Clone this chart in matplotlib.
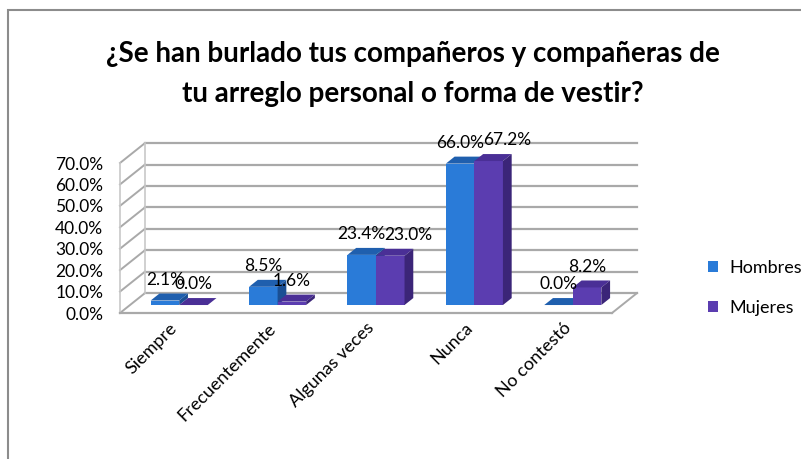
import matplotlib.pyplot as plt
from matplotlib.patches import Polygon, Rectangle
import numpy as np

plt.rcParams['font.family'] = ['Lato', 'DejaVu Sans']

# Datos del gráfico
categorias = ['Siempre', 'Frecuentemente', 'Algunas veces', 'Nunca', 'No contestó']
hombres = [2.1, 8.5, 23.4, 66.0, 0.0]
mujeres = [0.0, 1.6, 23.0, 67.2, 8.2]
series = ['Hombres', 'Mujeres']
yticks = [0, 10, 20, 30, 40, 50, 60, 70]

titulo = '¿Se han burlado tus compañeros y compañeras de\ntu arreglo personal o forma de vestir?'

# Estilo (pseudo 3D)
colores = {
    'Hombres': ('#2a7bd8', '#1f5fae', '#1a4f94'),   # frente, arriba, lado
    'Mujeres': ('#5b3db0', '#4a2f96', '#3b2578'),
}
DX, DY = 0.254, 9.3     # profundidad de la caja en unidades de datos
F0, D = 0.4, 0.35       # posición y profundidad de las barras (fracción)
W = 0.29
grid_color = '#a9a9a9'

fig = plt.figure(figsize=(8.01, 4.59), dpi=100)
ax = fig.add_axes([120 / 801, 1 - 313 / 459, 492 / 801, 150 / 459])
ax.set_xlim(0, len(categorias))
ax.set_ylim(0, 70)
for s in ax.spines.values():
    s.set_visible(False)

# Pared del fondo y lateral
for t in yticks:
    ax.plot([DX, len(categorias) + DX], [t + DY, t + DY], color=grid_color, lw=1.6, clip_on=False, zorder=1)
    ax.plot([0, DX], [t, t + DY], color=grid_color, lw=1.4, clip_on=False, zorder=1)
ax.plot([0, 0], [0, yticks[-1]], color='#c8c8c8', lw=1.2, clip_on=False, zorder=1)
ax.plot([DX, DX], [DY, yticks[-1] + DY], color='#c8c8c8', lw=1.2, clip_on=False, zorder=1)
# Piso
n = len(categorias)
ax.plot([0, n], [0, 0], color=grid_color, lw=1.6, clip_on=False, zorder=1)
ax.plot([n, n + DX], [0, DY], color=grid_color, lw=1.4, clip_on=False, zorder=1)

# Barras 3D
x = np.arange(n)
ox, oy = F0 * DX, F0 * DY
bx, by = D * DX, D * DY
for k, (nombre, vals) in enumerate(zip(series, [hombres, mujeres])):
    front, top, side = colores[nombre]
    for i, v in enumerate(vals):
        x0 = x[i] + 0.5 - W + k * W + ox
        x1 = x0 + W
        y0, y1 = oy, oy + v
        z = 3 + i * 0.01
        ax.add_patch(Polygon([[x0, y0], [x1, y0], [x1, y1], [x0, y1]], closed=True,
                             facecolor=front, edgecolor='none', clip_on=False, zorder=z))
        ax.add_patch(Polygon([[x0, y1], [x1, y1], [x1 + bx, y1 + by], [x0 + bx, y1 + by]], closed=True,
                             facecolor=top, edgecolor='none', clip_on=False, zorder=z))
        ax.add_patch(Polygon([[x1, y0], [x1 + bx, y0 + by], [x1 + bx, y1 + by], [x1, y1]], closed=True,
                             facecolor=side, edgecolor='none', clip_on=False, zorder=z))

# Etiquetas de datos
for i in range(n):
    for k, vals in enumerate([hombres, mujeres]):
        v = vals[i]
        xc = x[i] + 0.5 - W + k * W + ox + W / 2
        dxp = 0
        if k == 1 and hombres[i] > 20 and mujeres[i] > 20:
            dxp = 13
        ax.annotate(f'{v:.1f}%', (xc, oy + v + by), xytext=(dxp, 4), textcoords='offset points',
                    ha='center', va='bottom', fontsize=12.5, color='black', zorder=10,
                    annotation_clip=False)

# Ejes
ax.set_yticks(yticks)
ax.set_yticklabels([f'{t:.1f}%' for t in yticks], fontsize=12.5)
ax.tick_params(axis='y', length=0, pad=12)
ax.set_xticks(x + 0.5)
ax.set_xticklabels(categorias, rotation=45, ha='right', va='top', rotation_mode='anchor', fontsize=13)
ax.tick_params(axis='x', length=0, pad=5)

# Leyenda
handles = [Rectangle((0, 0), 1, 1, facecolor=colores[s][0]) for s in series]
fig.legend(handles, series, loc='center left', bbox_to_anchor=(692 / 801, 1 - 288 / 459),
           frameon=False, fontsize=13, handlelength=0.55, handleheight=0.55,
           handletextpad=0.6, labelspacing=1.3)

# Título
fig.text(413 / 801, 1 - 74 / 459, titulo, ha='center', va='center', fontsize=20,
         fontweight='bold', linespacing=1.7)

# Marco
fig.patches.append(Rectangle((8 / 801, -0.05), 1.0, 1 - 10 / 459 + 0.05, transform=fig.transFigure,
                             fill=False, edgecolor='#8c8c8c', lw=1.5))

fig.savefig('out.png', dpi=100)
